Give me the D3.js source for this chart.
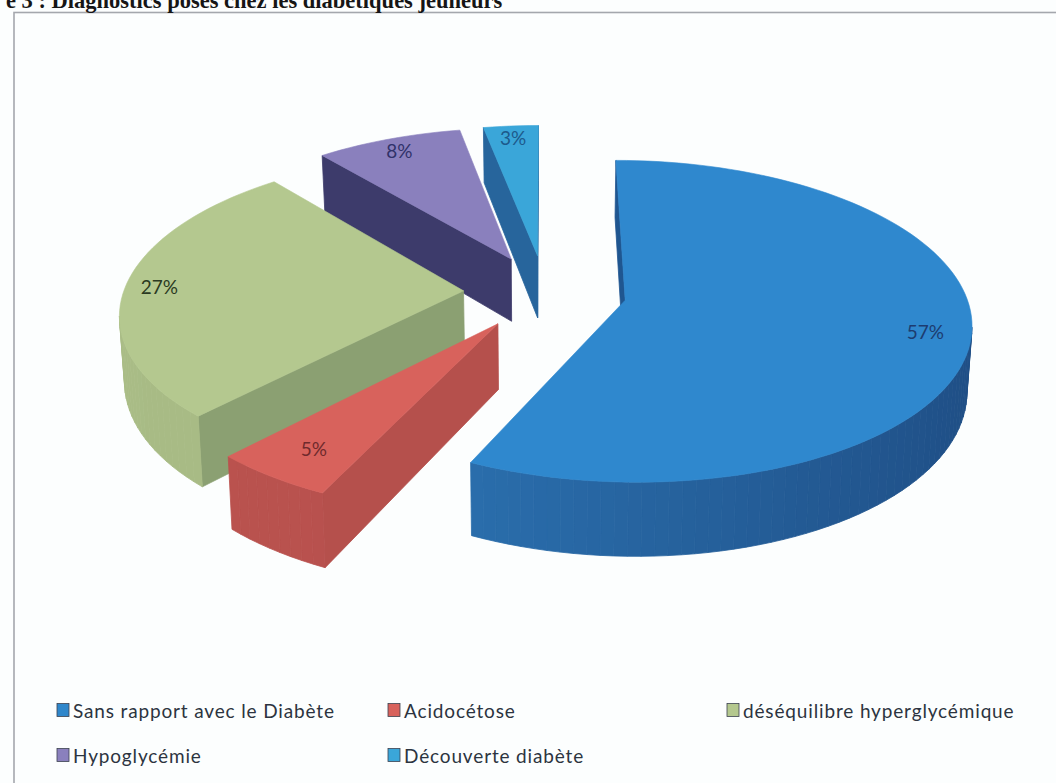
<!DOCTYPE html>
<html><head><meta charset="utf-8">
<script src="https://cdn.jsdelivr.net/npm/d3@7"></script>
<style>html,body{margin:0;padding:0;background:#fcfefe;overflow:hidden}</style>
</head><body><svg id="c" width="1056" height="783"></svg>
<script>
const categories = ["Sans rapport avec le Diabète","Acidocétose","déséquilibre hyperglycémique","Hypoglycémie","Découverte diabète"];
const values = [57,5,27,8,3];
const percentLabels = ["57%","5%","27%","8%","3%"];
const topColors = ["#2f88ce","#d8625c","#b4c88f","#8a80bd","#3aa6d9"];
const rimLeft = ["#2e7abb","#bb534f","#a9bc86","#3d3b6b","#2a6ba3"];
const rimRight = ["#1f4e85","#b24d4a","#a0b47e","#3d3b6b","#2a6ba3"];
const wallColors = ["#1f5690","#b5504c","#8ba072","#3d3b6b","#27659c"];
const legendColors = ["#2f87cb","#d8625c","#b4c88e","#8a80bd","#3aa6d9"];
const labelColors = ["#1d3c70","#6f2a2c","#2a3a22","#30326a","#1d5a8c"];
const labelRadii = [0.87,0.83,0.9,0.9,0.9];
const drawOrder = [4,3,2,1,0];

const svg = d3.select("#c");
// projection parameters
const cx=545, cy=292, U=340, V=156, k=0.13, explode=0.24, T=64, conv=0.012;
function proj(u,v,down){
  const s=1/(1+k*v);
  let x=cx+U*u*s, y=cy-V*v*s;
  if(down){ x-= (x-cx)*conv; y+=T*s; }
  return [x,y];
}
const arcs=d3.pie().sort(null).value(d=>d)(values);
function ringPoint(d,a,r,down){
  const m=(d.startAngle+d.endAngle)/2;
  const u=explode*Math.sin(m)+r*Math.sin(a), v=explode*Math.cos(m)+r*Math.cos(a);
  return proj(u,v,down);
}
const line=d3.line().curve(d3.curveLinearClosed);
// chart frame
svg.append("rect").attr("x",14).attr("y",12.5).attr("width",1060).attr("height",800)
  .attr("fill","#fcfefe").attr("stroke","#a4a7ad").attr("stroke-width",1.6);
// title
svg.append("text").attr("x",6).attr("y",8).attr("font-family","'Liberation Serif',serif")
  .attr("font-weight","700").attr("font-size",22.5).attr("fill","#161616")
  .text("e 3 : Diagnostics posés chez les diabétiques jeuneurs");

const g=svg.append("g");
drawOrder.forEach(i=>{
  const d=arcs[i];
  const n=Math.max(6,Math.round((d.endAngle-d.startAngle)/(Math.PI/90)));
  const angles=d3.range(n+1).map(j=>d.startAngle+(d.endAngle-d.startAngle)*j/n);
  const apexT=ringPoint(d,0,0,false), apexB=ringPoint(d,0,0,true);
  const outerT=angles.map(a=>ringPoint(d,a,1,false)), outerB=angles.map(a=>ringPoint(d,a,1,true));
  const layer=g.append("g");
  const quad=(a,b,c,e,fill)=>layer.append("path").attr("d",line([a,b,c,e])).attr("fill",fill).attr("stroke",fill).attr("stroke-width",0.8);
  // radial walls and outer rim: only the faces turned to the viewer
  if(outerT[0][0]<apexT[0]) quad(apexT,outerT[0],outerB[0],apexB,wallColors[i]);
  const last=outerT[n];
  if(apexT[0]<last[0]) quad(last,apexT,apexB,outerB[n],wallColors[i]);
  const rim=d3.interpolateRgb(rimLeft[i],rimRight[i]);
  for(let j=0;j<n;j++){
    if(outerT[j+1][0]<outerT[j][0]){
      const t=(Math.sin((angles[j]+angles[j+1])/2)+1)/2;
      quad(outerT[j],outerT[j+1],outerB[j+1],outerB[j],rim(t));
    }
  }
  layer.append("path").attr("d",line([apexT,...outerT])).attr("fill",topColors[i]).attr("stroke",topColors[i]).attr("stroke-width",0.6);
});
// data labels
arcs.forEach((d,i)=>{
  const p=ringPoint(d,(d.startAngle+d.endAngle)/2,labelRadii[i],false);
  svg.append("text").attr("x",p[0]).attr("y",p[1]).attr("text-anchor","middle").attr("dominant-baseline","central")
    .attr("font-family","Lato,sans-serif").attr("font-size",19).attr("fill",labelColors[i]).text(percentLabels[i]);
});
// legend
const legendCols=[57,388,727], legendRows=[710,755];
categories.forEach((c,i)=>{
  const col=i%3,row=Math.floor(i/3);
  const x=legendCols[col],y=legendRows[row];
  svg.append("rect").attr("x",x).attr("y",y-6.5).attr("width",12).attr("height",13)
    .attr("fill",legendColors[i]).attr("stroke","#3c4250").attr("stroke-width",0.8);
  svg.append("text").attr("x",x+16).attr("y",y).attr("dominant-baseline","central")
    .attr("font-family","Lato,sans-serif").attr("font-size",19).attr("letter-spacing",0.85).attr("fill","#2c3440").text(c);
});
</script></body></html>
